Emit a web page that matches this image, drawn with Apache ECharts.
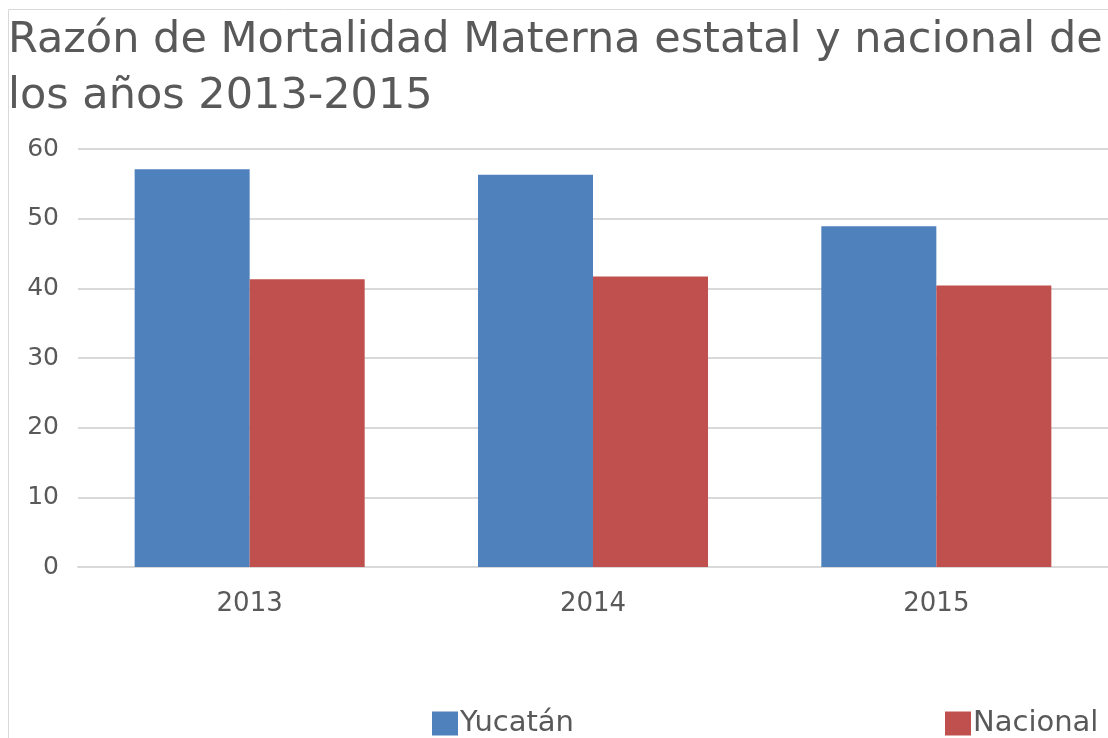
<!DOCTYPE html>
<html><head><meta charset="utf-8">
<script src="https://cdn.jsdelivr.net/npm/echarts@6/dist/echarts.min.js"></script>
<style>html,body{margin:0;padding:0;background:#fff}#c{width:1108px;height:738px}</style>
</head><body><div id="c"></div>
<script>
const categories = ['2013', '2014', '2015'];
const yucatan = [57.1, 56.3, 48.9];
const nacional = [41.3, 41.7, 40.4];
const yTicks = [0, 10, 20, 30, 40, 50, 60];

const chart = echarts.init(document.getElementById('c'), null, {renderer: 'canvas'});
const font = '"DejaVu Sans", "Liberation Sans", Arial, sans-serif';
chart.setOption({
  animation: false,
  backgroundColor: '#fff',
  title: {
    text: 'Razón de Mortalidad Materna estatal y nacional de\nlos años 2013-2015',
    left: 8, top: 13, padding: 0,
    textStyle: {fontFamily: font, fontSize: 43, fontWeight: 'normal', color: '#595959', lineHeight: 56}
  },
  graphic: [
    {type: 'line', shape: {x1: 8.5, y1: 9.5, x2: 1108, y2: 9.5}, style: {stroke: '#d9d9d9', lineWidth: 1}},
    {type: 'line', shape: {x1: 8.5, y1: 9.5, x2: 8.5, y2: 738}, style: {stroke: '#d9d9d9', lineWidth: 1}}
  ],
  legend: [
    {data: [{name: 'Yucatán'}], left: 432, top: 709, padding: 0, itemWidth: 26, itemHeight: 24, itemGap: 0,
     textStyle: {fontFamily: font, fontSize: 29, color: '#595959', padding: [0, 0, 0, -3]}, icon: 'rect'},
    {data: [{name: 'Nacional'}], left: 945, top: 709, padding: 0, itemWidth: 26, itemHeight: 24, itemGap: 0,
     textStyle: {fontFamily: font, fontSize: 29, color: '#595959', padding: [0, 0, 0, -3]}, icon: 'rect'}
  ],
  grid: {left: 78, top: 149, width: 1032, height: 418, containLabel: false},
  xAxis: {
    type: 'category', data: categories,
    axisLine: {lineStyle: {color: '#d9d9d9', width: 2}},
    axisTick: {show: false},
    axisLabel: {fontFamily: font, fontSize: 26, color: '#595959', margin: 24}
  },
  yAxis: {
    type: 'value', min: yTicks[0], max: yTicks[yTicks.length - 1], interval: 10,
    axisLine: {show: false}, axisTick: {show: false},
    splitLine: {lineStyle: {color: '#d9d9d9', width: 2}},
    axisLabel: {fontFamily: font, fontSize: 25, color: '#595959', margin: 19}
  },
  series: [
    {name: 'Yucatán', type: 'bar', data: yucatan, barGap: '0%', barCategoryGap: '33%',
     itemStyle: {color: '#4F81BD'}},
    {name: 'Nacional', type: 'bar', data: nacional, barGap: '0%', barCategoryGap: '33%',
     itemStyle: {color: '#C0504D'}}
  ]
});
</script></body></html>
